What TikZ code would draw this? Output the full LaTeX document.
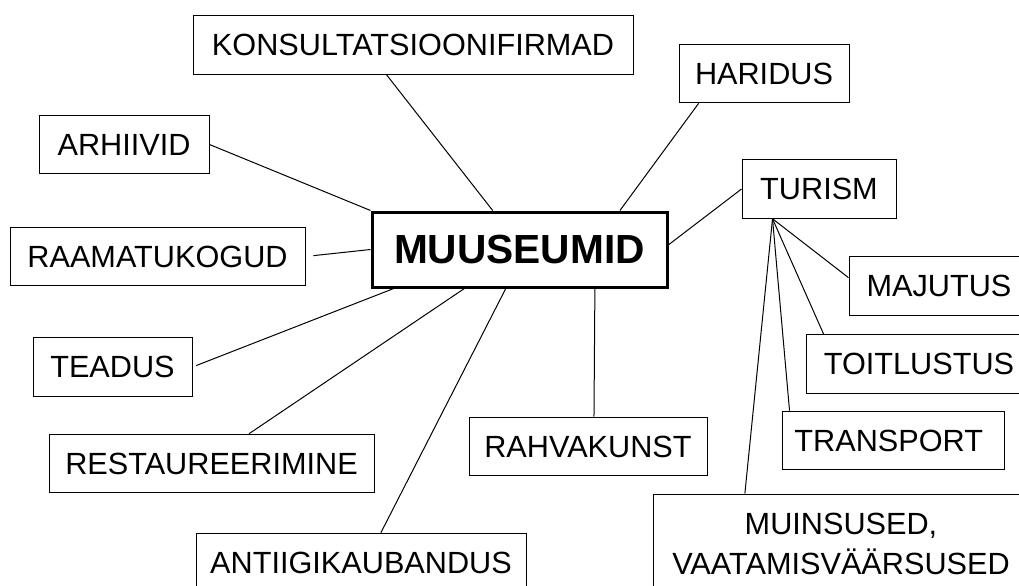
\documentclass[tikz,border=0pt]{standalone}
\usepackage{fontspec}
\setmainfont{Liberation Sans}
\usetikzlibrary{positioning,calc}

\begin{document}
\begin{tikzpicture}[x=0.75pt,y=-0.75pt,line width=0.75pt,
  box/.style={draw,align=center,inner sep=0pt,minimum height=43.9pt,font=\fontsize{23}{30}\selectfont},
  hub/.style={draw,line width=2.25pt,inner sep=0pt,minimum width=221.25pt,minimum height=56.25pt,font=\fontsize{30.5}{36}\selectfont\bfseries}]
\useasboundingbox (0,0) rectangle (1019,585);
\clip (0,0) rectangle (1019,585);
\node[hub](muuseumid) at (519.5,249.5){MUUSEUMID};
\foreach \n/\x/\y/\w/\txt in {
  konsult/413/45/440/KONSULTATSIOONIFIRMAD,
  haridus/764/73.5/170/HARIDUS,
  arhiivid/124/144.5/170/ARHIIVID,
  raamat/157.5/256.5/295/RAAMATUKOGUD,
  teadus/112.5/367/159/TEADUS,
  restaur/211.5/463.5/325/RESTAUREERIMINE,
  antiigi/361/562.5/330/ANTIIGIKAUBANDUS,
  rahvakunst/588/446.5/238/RAHVAKUNST,
  turism/819/189/154/TURISM,
  majutus/939/286/180/MAJUTUS,
  toitlustus/919/364/226/TOITLUSTUS,
  transport/893/440.5/222/TRANSPORT
}
\node[box,minimum width=\w*0.75pt](\n) at (\x,\y){\txt};
\node[box,minimum width=282pt,minimum height=75pt](muinsused) at (841,544){MUINSUSED,\\VAATAMISVÄÄRSUSED};
\draw ($(konsult.south west)!.44!(konsult.south east)$) -- ($(muuseumid.north west)!.41!(muuseumid.north east)$);
\draw ($(haridus.south west)!.118!(haridus.south east)$) -- ($(muuseumid.north west)!.837!(muuseumid.north east)$);
\draw (arhiivid.east) -- (muuseumid.north west);
\draw[shorten <=6pt] (raamat.east) -- (muuseumid.west);
\draw[shorten <=3pt] (teadus.east) -- ($(muuseumid.south west)!.078!(muuseumid.south east)$);
\draw ($(restaur.north west)!.615!(restaur.north east)$) -- ($(muuseumid.south west)!.315!(muuseumid.south east)$);
\draw ($(antiigi.north west)!.56!(antiigi.north east)$) -- ($(muuseumid.south west)!.454!(muuseumid.south east)$);
\draw ($(rahvakunst.north west)!.525!(rahvakunst.north east)$) -- ($(muuseumid.south west)!.753!(muuseumid.south east)$);
\draw (turism.west) -- ($(muuseumid.north east)!.44!(muuseumid.south east)$);
\coordinate (fan) at ($(turism.south west)!.2!(turism.south east)$);
\draw (fan) -- ($(majutus.north west)!.36!(majutus.south west)$);
\draw (fan) -- ($(toitlustus.north west)!.08!(toitlustus.north east)$);
\draw (fan) -- ($(transport.north west)!.036!(transport.north east)$);
\draw (fan) -- ($(muinsused.north west)!.245!(muinsused.north east)$);
\end{tikzpicture}
\end{document}
